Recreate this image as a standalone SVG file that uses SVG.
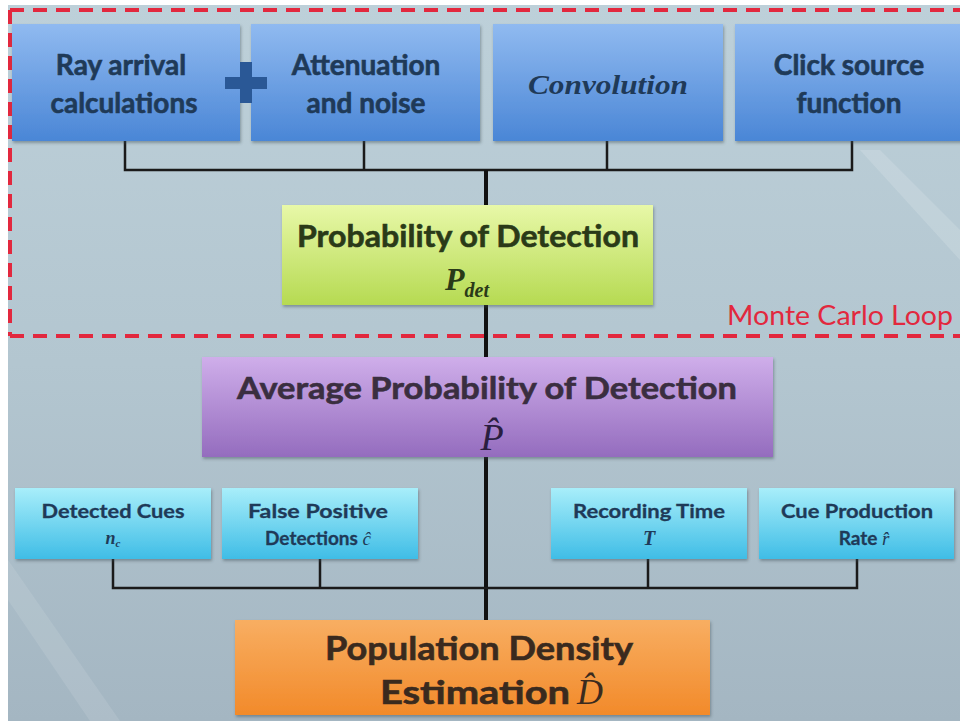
<svg xmlns="http://www.w3.org/2000/svg" width="960" height="721" viewBox="0 0 960 721">
<defs>
<linearGradient id="bg" x1="0" y1="0" x2="0" y2="1">
<stop offset="0" stop-color="#bdd0d9"/>
<stop offset="0.5" stop-color="#b3c6d0"/>
<stop offset="1" stop-color="#a4b6c2"/>
</linearGradient>
<linearGradient id="blue" x1="0" y1="0" x2="0" y2="1">
<stop offset="0" stop-color="#90baf0"/>
<stop offset="1" stop-color="#4a86d6"/>
</linearGradient>
<linearGradient id="green" x1="0" y1="0" x2="0" y2="1">
<stop offset="0" stop-color="#e8f8a8"/>
<stop offset="1" stop-color="#b6da52"/>
</linearGradient>
<linearGradient id="purple" x1="0" y1="0" x2="0" y2="1">
<stop offset="0" stop-color="#cfaeea"/>
<stop offset="1" stop-color="#946cbe"/>
</linearGradient>
<linearGradient id="cyan" x1="0" y1="0" x2="0" y2="1">
<stop offset="0" stop-color="#a8eefa"/>
<stop offset="1" stop-color="#3fbde6"/>
</linearGradient>
<linearGradient id="orange" x1="0" y1="0" x2="0" y2="1">
<stop offset="0" stop-color="#f8ae62"/>
<stop offset="1" stop-color="#f28a2a"/>
</linearGradient>
<filter id="sh" x="-5%" y="-10%" width="110%" height="125%">
<feDropShadow dx="1" dy="2" stdDeviation="1.5" flood-color="#3a4a55" flood-opacity="0.45"/>
</filter>
</defs>
<style>
.lbl{font-family:Lato,"Open Sans","Liberation Sans",sans-serif;font-weight:bold;text-anchor:middle;stroke-width:0.6}
.top{font-size:28px;fill:#1f3a58;stroke:#1f3a58}
.small{font-size:19px;fill:#1f3a58;stroke:#1f3a58;stroke-width:0.3}
.math{font-family:"Liberation Serif","DejaVu Serif",serif;font-style:italic}
.bus{stroke:#1a1a1a;stroke-width:2.5;fill:none}
.trunk{stroke:#111;stroke-width:4;fill:none}
.dash{stroke:#e2283e;stroke-width:4;stroke-dasharray:14 9;fill:none}
</style>
<rect x="0" y="0" width="960" height="721" fill="#ffffff"/>
<rect x="8" y="5" width="952" height="716" fill="url(#bg)"/>
<path d="M120 721 L8 560 L8 600 L90 721 Z" fill="#ffffff" opacity="0.1"/>
<path d="M860 150 L960 260 L960 230 L880 150 Z" fill="#ffffff" opacity="0.15"/>

<g id="connectors">
<path class="bus" d="M125 141 V170 H852 V141 M364 141 V170 M607 141 V170"/>
<path class="trunk" d="M486 170 V620"/>
<path class="bus" d="M113 559 V588 H857 V559 M320 559 V588 M648 559 V588"/>
</g>

<g id="monte-carlo-loop">
<path class="dash" d="M10 10 H960 M10 10 V336 M10 336 H960"/>
<text x="727" y="325" font-family="Lato,'Liberation Sans',sans-serif" font-size="27" fill="#e2283e" textLength="226" lengthAdjust="spacingAndGlyphs">Monte Carlo Loop</text>
</g>

<g id="ray-arrival">
<rect x="12" y="24" width="228" height="117" fill="url(#blue)" filter="url(#sh)"/>
<text class="lbl top" x="121" y="75">Ray arrival</text>
<text class="lbl top" x="124" y="113">calculations</text>
</g>
<g id="attenuation">
<rect x="251" y="24" width="229" height="117" fill="url(#blue)" filter="url(#sh)"/>
<text class="lbl top" x="366" y="75">Attenuation</text>
<text class="lbl top" x="366" y="113">and noise</text>
</g>
<g id="plus">
<path d="M240 62 H252 V77 H267 V89 H252 V103 H240 V89 H225 V77 H240 Z" fill="#2a5896"/>
</g>
<g id="convolution">
<rect x="493" y="24" width="230" height="117" fill="url(#blue)" filter="url(#sh)"/>
<text x="608" y="94" text-anchor="middle" font-family="'Liberation Serif',serif" font-style="italic" font-weight="bold" font-size="27" fill="#1f3a58" textLength="160" lengthAdjust="spacingAndGlyphs">Convolution</text>
</g>
<g id="click-source">
<rect x="735" y="24" width="228" height="117" fill="url(#blue)" filter="url(#sh)"/>
<text class="lbl top" x="849" y="75">Click source</text>
<text class="lbl top" x="849" y="113">function</text>
</g>

<g id="pdet">
<rect x="282" y="205" width="371" height="100" fill="url(#green)" filter="url(#sh)"/>
<text class="lbl" x="468" y="247" font-size="31" fill="#2a3a18" stroke="#2a3a18" textLength="342" lengthAdjust="spacingAndGlyphs">Probability of Detection</text>
<text x="445" y="290" font-family="'Liberation Serif',serif" font-size="32" font-style="italic" font-weight="bold" fill="#2a3a18">P<tspan font-size="20" dy="7">det</tspan></text>
</g>

<g id="avg-pdet">
<rect x="202" y="357" width="571" height="100" fill="url(#purple)" filter="url(#sh)"/>
<text class="lbl" x="487" y="399" font-size="31" fill="#3a2e40" stroke="#3a2e40" textLength="500" lengthAdjust="spacingAndGlyphs">Average Probability of Detection</text>
<text x="492" y="450" text-anchor="middle" font-family="'Liberation Serif',serif" font-size="38" font-style="italic" fill="#2a1e40">P̂</text>
</g>

<g id="detected-cues">
<rect x="15" y="488" width="196" height="71" fill="url(#cyan)" filter="url(#sh)"/>
<text class="lbl small" x="113" y="518" textLength="143" lengthAdjust="spacingAndGlyphs">Detected Cues</text>
<text x="113" y="544" text-anchor="middle" font-family="'Liberation Serif',serif" font-size="18" font-style="italic" font-weight="bold" fill="#1f3a58">n<tspan font-size="11" dy="3">c</tspan></text>
</g>
<g id="false-positive">
<rect x="222" y="488" width="196" height="71" fill="url(#cyan)" filter="url(#sh)"/>
<text class="lbl small" x="318" y="518" textLength="140" lengthAdjust="spacingAndGlyphs">False Positive</text>
<text class="lbl small" x="318" y="545">Detections <tspan class="math" font-weight="normal" stroke-width="0">ĉ</tspan></text>
</g>
<g id="recording-time">
<rect x="551" y="488" width="196" height="71" fill="url(#cyan)" filter="url(#sh)"/>
<text class="lbl small" x="649" y="518" textLength="152" lengthAdjust="spacingAndGlyphs">Recording Time</text>
<text x="649" y="545" text-anchor="middle" font-family="'Liberation Serif',serif" font-size="20" font-style="italic" font-weight="bold" fill="#1f3a58">T</text>
</g>
<g id="cue-production">
<rect x="759" y="488" width="195" height="71" fill="url(#cyan)" filter="url(#sh)"/>
<text class="lbl small" x="857" y="518" textLength="152" lengthAdjust="spacingAndGlyphs">Cue Production</text>
<text class="lbl small" x="864" y="545">Rate <tspan class="math" font-weight="normal" stroke-width="0">r̂</tspan></text>
</g>

<g id="population-density">
<rect x="235" y="620" width="475" height="95" fill="url(#orange)" filter="url(#sh)"/>
<text class="lbl" x="479" y="660" font-size="33" fill="#3a2a1e" stroke="#3a2a1e" textLength="308" lengthAdjust="spacingAndGlyphs">Population Density</text>
<text class="lbl" x="475" y="704" font-size="33" fill="#3a2a1e" stroke="#3a2a1e" textLength="190" lengthAdjust="spacingAndGlyphs">Estimation</text>
<text x="577" y="704" font-family="'Liberation Serif',serif" font-size="36" font-style="italic" fill="#3a2a1e">D̂</text>
</g>
</svg>
